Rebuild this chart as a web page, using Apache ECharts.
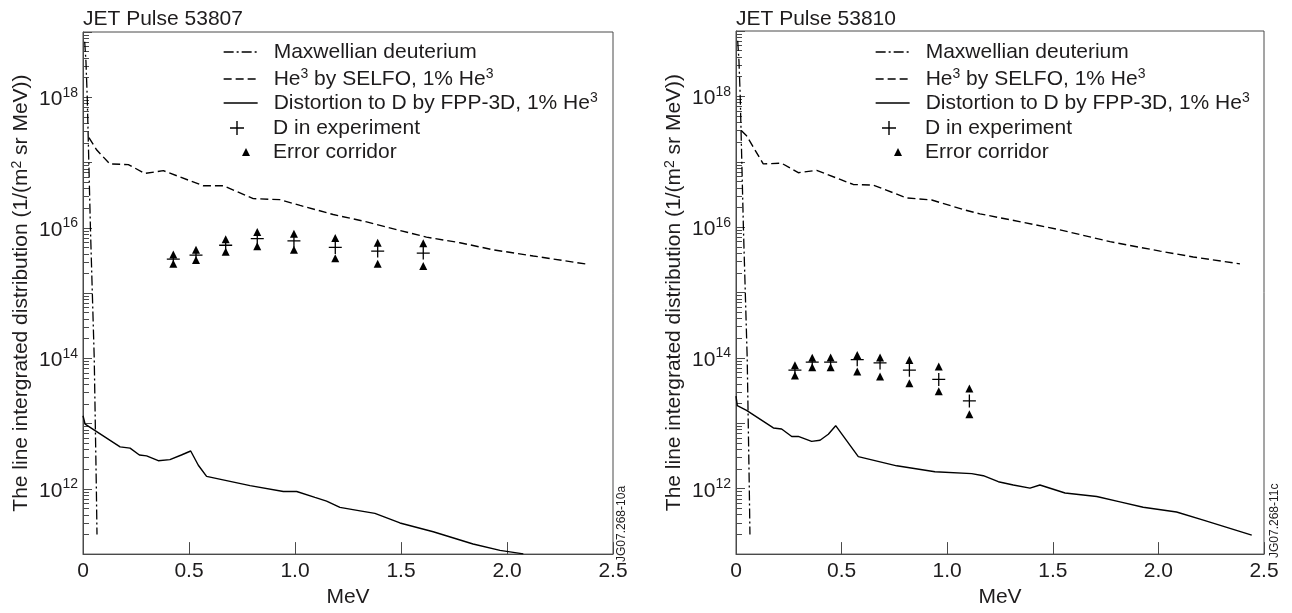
<!DOCTYPE html>
<html>
<head>
<meta charset="utf-8">
<title>JET Pulse 53807 / 53810</title>
<script src="https://cdn.jsdelivr.net/npm/echarts@6.0.0/dist/echarts.min.js"></script>
<style>
html, body { margin: 0; padding: 0; background: #fff; }
#main { width: 1292px; height: 613px; }
</style>
</head>
<body>
<div id="main"></div>
<script>
// values: energy in MeV, distribution in 1/(m^2 sr MeV)

// Maxwellian deuterium, same in both pulses
const maxwellE = [0.008, 0.014, 0.02, 0.035, 0.053, 0.063, 0.066];
const maxwellF = [7.1e18, 3.5e18, 1.0e18, 1.0e16, 1.0e14, 1.0e12, 2.0e11];

// pulse 53807
const he3E_53807 = [0.028, 0.065, 0.127, 0.214, 0.292, 0.379, 0.568, 0.662, 0.803, 0.929, 1.024, 1.18, 1.338, 1.495, 1.62, 1.778, 1.935, 2.124, 2.384];
const he3F_53807 = [2.4e17, 1.55e17, 9.5e16, 9.3e16, 6.8e16, 7.5e16, 4.4e16, 4.4e16, 2.8e16, 2.7e16, 2.2e16, 1.6e16, 1.23e16, 9.1e15, 7.2e15, 5.9e15, 4.6e15, 3.7e15, 2.75e15];
const fppE_53807 = [0, 0.01, 0.175, 0.222, 0.266, 0.3, 0.355, 0.41, 0.464, 0.508, 0.544, 0.583, 0.788, 0.945, 1.008, 1.094, 1.149, 1.212, 1.307, 1.377, 1.495, 1.652, 1.84, 1.967, 2.077];
const fppF_53807 = [1.32e13, 9.8e12, 4.4e12, 4.2e12, 3.3e12, 3.2e12, 2.7e12, 2.8e12, 3.3e12, 3.8e12, 2.3e12, 1.55e12, 1.12e12, 9.1e11, 9.1e11, 7.4e11, 6.5e11, 5.2e11, 4.6e11, 4.2e11, 3.0e11, 2.2e11, 1.43e11, 1.14e11, 1.01e11];
const expE_53807 = [0.426, 0.533, 0.673, 0.822, 0.995, 1.19, 1.39, 1.605];
const expF_53807 = [3.3e15, 3.8e15, 5.4e15, 6.8e15, 6.3e15, 5.0e15, 4.4e15, 4.1e15];
const errHi_53807 = [3.9e15, 4.6e15, 6.7e15, 8.6e15, 8.1e15, 7.0e15, 5.9e15, 5.8e15];
const errLo_53807 = [2.8e15, 3.2e15, 4.3e15, 5.2e15, 4.6e15, 3.4e15, 2.8e15, 2.6e15];

// pulse 53810
const he3E_53810 = [0.025, 0.05, 0.129, 0.216, 0.295, 0.382, 0.555, 0.65, 0.808, 0.927, 1.076, 1.155, 1.297, 1.534, 1.771, 2.008, 2.165, 2.386];
const he3F_53810 = [3.0e17, 2.5e17, 9.3e16, 9.5e16, 6.8e16, 7.4e16, 4.5e16, 4.4e16, 2.8e16, 2.6e16, 1.86e16, 1.6e16, 1.3e16, 9.1e15, 6.0e15, 4.3e15, 3.5e15, 2.75e15];
const fppE_53810 = [0, 0.006, 0.05, 0.177, 0.216, 0.264, 0.295, 0.358, 0.398, 0.437, 0.472, 0.579, 0.761, 0.942, 1.116, 1.171, 1.242, 1.313, 1.392, 1.439, 1.558, 1.708, 1.818, 1.928, 2.086, 2.213, 2.442];
const fppF_53810 = [2.6e13, 1.86e13, 1.58e13, 8.5e12, 8.2e12, 6.3e12, 6.3e12, 5.3e12, 5.5e12, 6.8e12, 9.2e12, 3.1e12, 2.24e12, 1.82e12, 1.7e12, 1.58e12, 1.28e12, 1.14e12, 1.02e12, 1.14e12, 8.6e11, 7.6e11, 6.3e11, 5.2e11, 4.4e11, 3.3e11, 1.95e11];
const expE_53810 = [0.279, 0.361, 0.448, 0.574, 0.682, 0.821, 0.96, 1.105];
const expF_53810 = [6.5e13, 8.6e13, 8.6e13, 9.4e13, 8.4e13, 6.5e13, 4.7e13, 2.2e13];
const errHi_53810 = [7.7e13, 1.01e14, 1.02e14, 1.11e14, 1.02e14, 9.3e13, 7.4e13, 3.4e13];
const errLo_53810 = [5.4e13, 7.2e13, 7.2e13, 6.2e13, 5.2e13, 4.1e13, 3.1e13, 1.38e13];

// axis ticks
const decadeTicks = [1e11, 1e12, 1e13, 1e14, 1e15, 1e16, 1e17, 1e18, 1e19];
const labelTicks = [1e12, 1e14, 1e16, 1e18];
const minorSteps = [2, 3, 4, 5, 6, 7, 8, 9];
const minorTicks = decadeTicks.slice(0, -1).flatMap(d => minorSteps.map(m => m * d));

const titles = ['JET Pulse 53807', 'JET Pulse 53810'];
const figCodes = ['JG07.268-10a', 'JG07.268-11c'];

const N_MAXW = 'Maxwellian deuterium';
const N_HE3 = 'He3 by SELFO, 1% He3';
const N_FPP = 'Distortion to D by FPP-3D, 1% He3';
const N_EXP = 'D in experiment';
const N_ERR = 'Error corridor';

const FONT = '"Liberation Sans", Arial, Helvetica, sans-serif';
const FS = 21;
const TXT = '#1e1c1d';
const AX = '#4a4a4a';
const INK = '#000';
const PLUS = 'path://M0,9H20V11H0Z M9,0H11V20H9Z';

const grids = [
    { left: 83, top: 32, width: 530, height: 530 },
    { left: 736, top: 31, width: 528, height: 529 }
];

const pairs = (xs, ys) => xs.map((x, i) => [x, ys[i]]);
const sup = (s) => s.replace(/He3/g, 'He{sup|3}');
const supRich = { sup: { fontSize: 14, verticalAlign: 'top', lineHeight: 14, fontFamily: FONT, color: TXT } };

const xAxisFor = (g) => ({
    type: 'value', gridIndex: g, min: 0, max: 2.5, interval: 0.5,
    name: 'MeV', nameLocation: 'middle', nameGap: 30,
    nameTextStyle: { fontSize: FS, color: TXT, fontFamily: FONT },
    axisLine: { onZero: false, lineStyle: { color: AX, width: 1 } },
    axisTick: { inside: true, length: 12, lineStyle: { color: AX } },
    axisLabel: {
        margin: 7, fontSize: FS, color: TXT, fontFamily: FONT,
        formatter: (v) => (v === 0 ? '0' : v.toFixed(1))
    },
    splitLine: { show: false }
});

const yAxisFor = (g) => ({
    type: 'log', gridIndex: g, min: 1e11, max: 1e19, position: 'left',
    name: 'The line intergrated distribution (1/(m{sup|2} sr MeV))',
    nameLocation: 'middle', nameGap: 50,
    nameTextStyle: { fontSize: FS, color: TXT, fontFamily: FONT, lineHeight: 23, rich: supRich },
    axisLine: { onZero: false, lineStyle: { color: AX, width: 1 } },
    axisTick: { inside: true, length: 9, customValues: decadeTicks, lineStyle: { color: AX } },
    axisLabel: {
        customValues: labelTicks, margin: 5,
        formatter: (v) => '{b|10}{s|' + Math.round(Math.log10(v)) + '}',
        rich: {
            b: { fontSize: FS, fontFamily: FONT, color: TXT, lineHeight: 23, padding: [4, 0, 0, 0] },
            s: { fontSize: 14, fontFamily: FONT, color: TXT, verticalAlign: 'top', lineHeight: 14 }
        }
    },
    splitLine: { show: false }
});

// second log axis on the same side, only for the 2..9 minor ticks
const minorAxisFor = (g) => ({
    type: 'log', gridIndex: g, min: 1e11, max: 1e19, position: 'left', offset: 0,
    axisLine: { show: false, onZero: false },
    axisTick: { inside: true, length: 6, customValues: minorTicks, lineStyle: { color: AX } },
    axisLabel: { show: false },
    splitLine: { show: false }
});

const seriesFor = (g, he3E, he3F, fppE, fppF, expE, expF, hiF, loF) => [
    {
        name: N_MAXW, type: 'line', xAxisIndex: g, yAxisIndex: 2 * g,
        data: pairs(maxwellE, maxwellF), symbol: 'none',
        lineStyle: { type: [10, 3, 2, 3], width: 1.3, color: INK }, itemStyle: { color: INK }
    },
    {
        name: N_HE3, type: 'line', xAxisIndex: g, yAxisIndex: 2 * g,
        data: pairs(he3E, he3F), symbol: 'none',
        lineStyle: { type: [8, 4], width: 1.4, color: INK }, itemStyle: { color: INK }
    },
    {
        name: N_FPP, type: 'line', xAxisIndex: g, yAxisIndex: 2 * g,
        data: pairs(fppE, fppF), symbol: 'none',
        lineStyle: { width: 1.4, color: INK }, itemStyle: { color: INK }
    },
    {
        name: N_EXP, type: 'scatter', xAxisIndex: g, yAxisIndex: 2 * g,
        data: pairs(expE, expF), symbol: PLUS, symbolSize: 13,
        itemStyle: { color: INK, opacity: 1 }
    },
    {
        name: N_ERR, type: 'scatter', xAxisIndex: g, yAxisIndex: 2 * g,
        data: pairs(expE, hiF).concat(pairs(expE, loF)), symbol: 'triangle', symbolSize: [8, 8],
        itemStyle: { color: INK, opacity: 1 }
    }
];

// one legend component per row so each icon can be placed like the original
const legendRows = [52, 79, 103, 128, 152];
const legendFor = (dx) => [
    [N_MAXW, null, 223, 34, 14, 11],
    [N_HE3, null, 223, 34, 14, 11],
    [N_FPP, null, 223, 34, 14, 11],
    [N_EXP, PLUS, 230, 14, 14, 24],
    [N_ERR, 'triangle', 242, 8, 8, 18]
].map(([name, icon, left, w, h, pad], i) => ({
    data: [icon ? { name, icon } : { name }],
    left: left + dx, top: legendRows[i] - 12,
    orient: 'vertical', padding: 0, itemWidth: w, itemHeight: h,
    selectedMode: false,
    lineStyle: { width: 1.3, opacity: 1 },
    // line rows: hide the marker ECharts puts in the middle of the line icon
    itemStyle: icon ? { color: INK, opacity: 1 } : { color: 'rgba(0,0,0,0)', borderWidth: 0, opacity: 0 },
    formatter: sup,
    textStyle: {
        fontSize: FS, color: TXT, fontFamily: FONT, lineHeight: 24,
        padding: [0, 0, 0, pad], rich: supRich
    }
}));

const option = {
    backgroundColor: '#fff',
    animation: false,
    title: titles.map((t, i) => ({
        text: t, left: grids[i].left, top: 9, padding: 0,
        textStyle: { fontSize: FS, fontWeight: 'normal', color: TXT, fontFamily: FONT }
    })),
    grid: grids.map(r => Object.assign({ show: true, borderColor: AX, borderWidth: 1, backgroundColor: 'transparent' }, r)),
    xAxis: [xAxisFor(0), xAxisFor(1)],
    yAxis: [yAxisFor(0), minorAxisFor(0), yAxisFor(1), minorAxisFor(1)],
    legend: legendFor(0).concat(legendFor(652)),
    series: seriesFor(0, he3E_53807, he3F_53807, fppE_53807, fppF_53807, expE_53807, expF_53807, errHi_53807, errLo_53807)
        .concat(seriesFor(1, he3E_53810, he3F_53810, fppE_53810, fppF_53810, expE_53810, expF_53810, errHi_53810, errLo_53810)),
    graphic: figCodes.map((c, i) => ({
        type: 'text', x: i === 0 ? 622 : 1275, y: i === 0 ? 562 : 558, rotation: Math.PI / 2,
        style: { text: c, fontSize: 12, fontFamily: FONT, fill: TXT, align: 'left', verticalAlign: 'middle' }
    }))
};

const chart = echarts.init(document.getElementById('main'), null, { renderer: 'canvas' });
chart.setOption(option);
</script>
</body>
</html>
